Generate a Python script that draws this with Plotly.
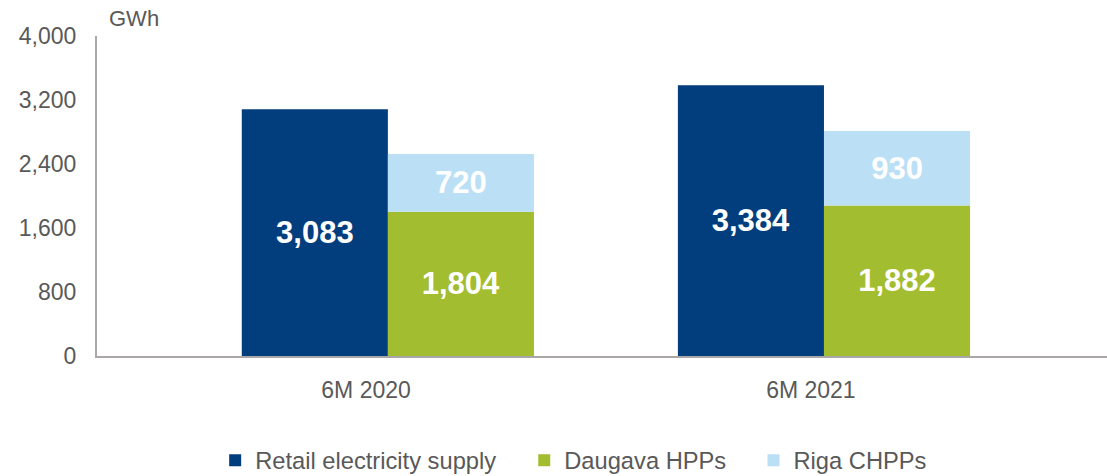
import plotly.graph_objects as go

categories = ["6M 2020", "6M 2021"]
retail = [3083, 3384]
daugava = [1804, 1882]
riga = [720, 930]
series_names = ["Retail electricity supply", "Daugava HPPs", "Riga CHPPs"]
y_ticks = [0, 800, 1600, 2400, 3200, 4000]

# layout / style (not data)
colors = ["#023E7D", "#A3BD31", "#BBE0F6"]
group_pos = [0, 1]
bar_w = 0.335
label_pos = [-0.05, 0.97]
FONT = "Liberation Sans, Arial, sans-serif"
GRAY = "#595959"

def fmt(vals):
    return [f"{v:,}" for v in vals]

fig = go.Figure()
fig.add_trace(go.Bar(
    x=[p - bar_w / 2 for p in group_pos], y=retail, width=bar_w,
    name=series_names[0], marker=dict(color=colors[0], line=dict(width=0)),
    text=fmt(retail), legend="legend", showlegend=True))
fig.add_trace(go.Bar(
    x=[p + bar_w / 2 for p in group_pos], y=daugava, width=bar_w,
    name=series_names[1], marker=dict(color=colors[1], line=dict(width=0)),
    text=fmt(daugava), legend="legend2", showlegend=True))
fig.add_trace(go.Bar(
    x=[p + bar_w / 2 for p in group_pos], y=riga, width=bar_w,
    name=series_names[2], marker=dict(color=colors[2], line=dict(width=0)),
    text=fmt(riga), legend="legend3", showlegend=True))

fig.update_traces(textposition="inside", insidetextanchor="middle", textangle=0,
                  textfont=dict(family=FONT, size=31, color="white", weight="bold"),
                  hoverinfo="skip")

leg_common = dict(orientation="h", yanchor="middle", y=-0.326, xanchor="left",
                  font=dict(family=FONT, size=23.7, color=GRAY),
                  bgcolor="rgba(0,0,0,0)", borderwidth=0, visible=True)

fig.update_layout(
    showlegend=True,
    barmode="relative",
    width=1107, height=476,
    margin=dict(l=97, r=0, t=36, b=120, autoexpand=False),
    paper_bgcolor="white", plot_bgcolor="white",
    font=dict(family=FONT, color=GRAY),
    xaxis=dict(range=[-0.667, 1.649], tickvals=label_pos, ticktext=categories,
               showline=True, linecolor="#ABA7A7", linewidth=2, showgrid=False,
               zeroline=False, ticks="", ticklabelstandoff=12, automargin=False,
               tickfont=dict(family=FONT, size=23, color=GRAY)),
    yaxis=dict(range=[0, 4000], tickvals=y_ticks, tickformat=",",
               showline=True, linecolor="#ABA7A7", linewidth=2, showgrid=False,
               zeroline=False, ticks="", ticklabelstandoff=14, automargin=False,
               tickfont=dict(family=FONT, size=23, color=GRAY)),
    legend=dict(x=0.117, **leg_common),
    legend2=dict(x=0.423, **leg_common),
    legend3=dict(x=0.650, **leg_common),
    annotations=[dict(text="GWh", xref="paper", yref="paper", x=0.010, y=1.056,
                      xanchor="left", yanchor="middle", showarrow=False,
                      font=dict(family=FONT, size=22, color=GRAY))],
)

fig.write_html(
    "out.html",
    config={"displayModeBar": False},
    post_script="document.body.style.margin='0';document.body.style.overflow='hidden';",
)
